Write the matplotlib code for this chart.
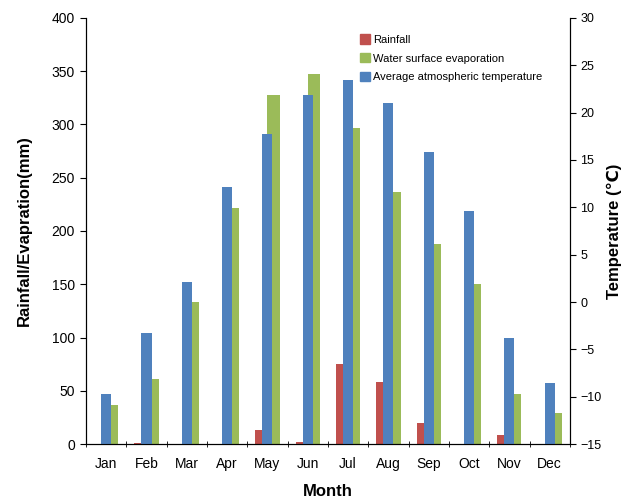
import numpy as np
import matplotlib
matplotlib.use('Agg')
import matplotlib.pyplot as plt
from matplotlib.patches import Patch

plt.rcParams['font.family'] = ['Liberation Sans', 'DejaVu Sans']

months = ['Jan', 'Feb', 'Mar', 'Apr', 'May', 'Jun',
          'Jul', 'Aug', 'Sep', 'Oct', 'Nov', 'Dec']
rainfall = [0, 0.5, 0, 0, 13, 2, 75, 58, 19.5, 0, 8, 0]
evaporation = [37, 61, 133, 222, 328, 347, 297, 237, 188, 150, 47, 29]
temperature = [-9.7, -3.3, 2.1, 12.1, 17.7, 21.9, 23.5, 21.0, 15.8, 9.6, -3.8, -8.6]

red = '#C0504D'
green = '#9BBB59'
blue = '#4F81BD'

fig = plt.figure(figsize=(6.29, 4.98), dpi=100)
ax = fig.add_axes([0.1367, 0.1084, 0.7693, 0.8555])
ax2 = ax.twinx()

x = np.arange(len(months))
ax.bar(x - 0.15, rainfall, width=0.3, color=red, edgecolor='none')
ax.bar(x + 0.15, evaporation, width=0.3, color=green, edgecolor='none')
temp = np.array(temperature)
ax2.bar(x, temp + 15, width=0.25, bottom=-15, color=blue, edgecolor='none')

ax.set_xlim(-0.5, len(months) - 0.5)
ax.set_ylim(0, 400)
ax2.set_ylim(-15, 30)
ax.set_yticks(range(0, 401, 50))
ax2.set_yticks(range(-15, 31, 5))

ax.set_xticks(x)
ax.set_xticklabels(months)
ax.set_xticks(np.arange(-0.5, len(months), 1), minor=True)
ax.tick_params(axis='x', which='major', length=0, labelsize=10, pad=9)
ax.tick_params(axis='x', which='minor', length=4, direction='inout')
ax.tick_params(axis='y', direction='out', length=4, labelsize=10, pad=4)
ax2.tick_params(axis='y', direction='out', length=4, labelsize=9)

ax.spines['top'].set_visible(False)
ax2.spines['top'].set_visible(False)

ax.set_xlabel('Month', fontsize=12, fontweight='bold', labelpad=10)
ax.set_ylabel('Rainfall/Evapration(mm)', fontsize=12, fontweight='bold', labelpad=14)
ax2.set_ylabel('Temperature (\u2103)', fontsize=12, fontweight='bold', labelpad=4)

handles = [Patch(color=red, label='Rainfall'),
           Patch(color=green, label='Water surface evaporation'),
           Patch(color=blue, label='Average atmospheric temperature')]
ax2.legend(handles=handles, loc='upper left', bbox_to_anchor=(0.545, 0.985),
           frameon=False, fontsize=8, handlelength=0.9, handleheight=0.9,
           handletextpad=0.3, labelspacing=0.75)

fig.savefig('out.png', dpi=100)
